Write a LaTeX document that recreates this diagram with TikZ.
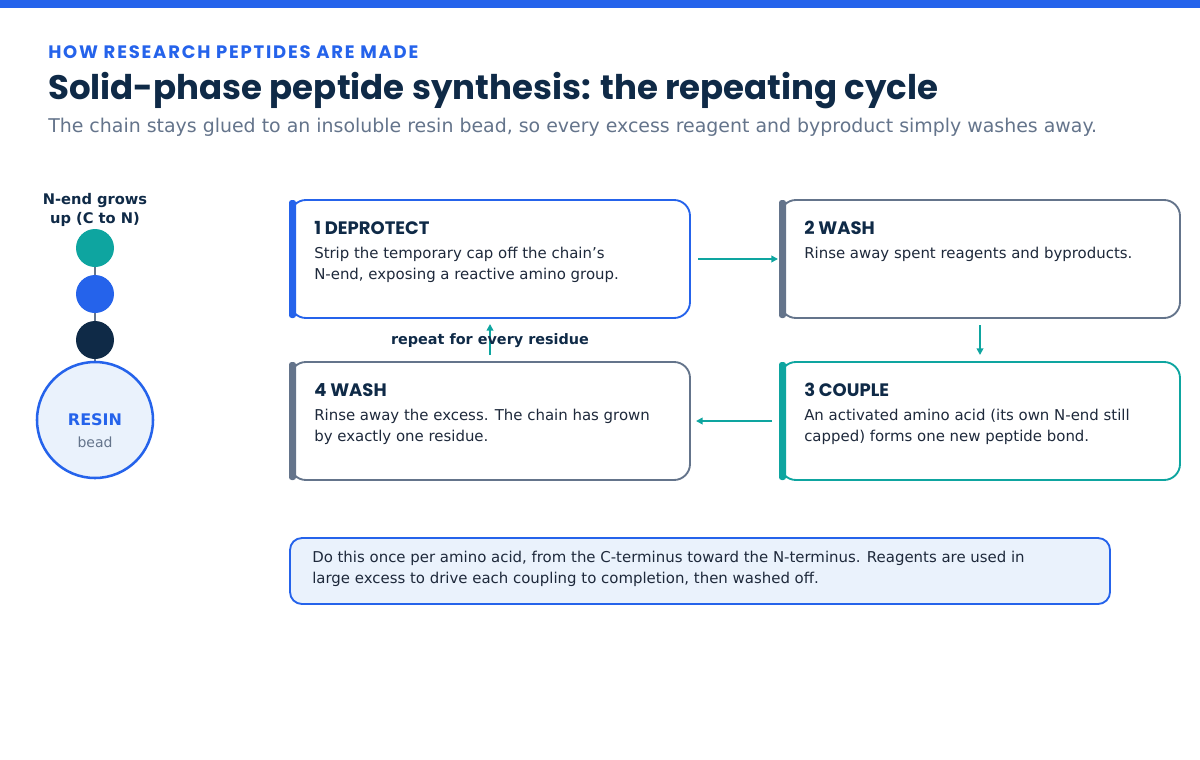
\documentclass[tikz,border=0pt]{standalone}
\usepackage{fontspec}
\setmainfont{DejaVu Sans}
\newfontfamily\pop{Poppins}
\newfontfamily\popsp{Poppins}[LetterSpace=10]
\usetikzlibrary{arrows.meta}
\definecolor{cblue}{HTML}{2563EB}
\definecolor{cteal}{HTML}{0EA5A0}
\definecolor{cnavy}{HTML}{0F2A47}
\definecolor{cgray}{HTML}{64748B}
\definecolor{ctext}{HTML}{1E293B}
\definecolor{cpale}{HTML}{EAF2FC}
\begin{document}
\begin{tikzpicture}[x=0.75pt,y=-0.75pt,
  box/.style={draw=#1,line width=1.4pt,rounded corners=12pt,fill=white},
  bar/.style={fill=#1,rounded corners=2pt},
  ttl/.style={anchor=base west,font=\pop\bfseries\fontsize{13.5}{16}\selectfont,text=cnavy,inner sep=0},
  body/.style={anchor=north west,align=left,font=\fontsize{11.2}{15.7}\selectfont,text=ctext,inner sep=0},
  arr/.style={draw=cteal,line width=1.6pt,-{Triangle[length=5pt,width=5pt]}}]
\useasboundingbox (0,0) rectangle (1200,760);
\fill[white] (0,0) rectangle (1200,760);
\fill[cblue] (0,0) rectangle (1200,8);
\node[anchor=base west,inner sep=0,text=cblue,font=\popsp\bfseries\fontsize{13.5}{16}\selectfont] (hdr) at (48,58) {HOW RESEARCH PEPTIDES ARE MADE};
\node[anchor=base west,inner sep=0,text=cnavy,font=\pop\bfseries\fontsize{25.5}{30}\selectfont] (title) at (48,99) {Solid-phase peptide synthesis: the repeating cycle};
\node[anchor=base west,inner sep=0,text=cgray,font=\fontsize{14.2}{17}\selectfont] (sub) at (48,132) {The chain stays glued to an insoluble resin bead, so every excess reagent and byproduct simply washes away.};
% left column
\node[align=center,font=\bfseries\fontsize{11}{14.5}\selectfont,text=cnavy,inner sep=0] (lbl) at (95,210) {N-end grows\\up (C to N)};
\draw[cgray,line width=1.6pt] (95,248) -- (95,366);
\node[circle,fill=cteal,minimum size=38*0.75pt,inner sep=0] (c1) at (95,248) {};
\node[circle,fill=cblue,minimum size=38*0.75pt,inner sep=0] (c2) at (95,294) {};
\node[circle,fill=cnavy,minimum size=38*0.75pt,inner sep=0] (c3) at (95,340) {};
\node[circle,draw=cblue,line width=1.9pt,fill=cpale,minimum size=116*0.75pt,inner sep=0] (resin) at (95,420) {};
\node[font=\bfseries\fontsize{12}{14}\selectfont,text=cblue] (rt) at (95,420) {RESIN};
\node[font=\fontsize{10.5}{12}\selectfont,text=cgray] (bt) at (95,442) {bead};
% boxes
\draw[box=cblue] (290,200) rectangle (690,318);
\fill[bar=cblue] (289,200) rectangle (296,318);
\node[ttl] (t1) at (314,234) {1 DEPROTECT};
\node[body] (b1) at (314,247) {Strip the temporary cap off the chain's\\N-end, exposing a reactive amino group.};
\draw[box=cgray] (780,200) rectangle (1180,318);
\fill[bar=cgray] (779,200) rectangle (786,318);
\node[ttl] (t2) at (804,234) {2 WASH};
\node[body] (b2) at (804,247) {Rinse away spent reagents and byproducts.};
\draw[box=cteal] (780,362) rectangle (1180,480);
\fill[bar=cteal] (779,362) rectangle (786,480);
\node[ttl] (t3) at (804,396) {3 COUPLE};
\node[body] (b3) at (804,409) {An activated amino acid (its own N-end still\\capped) forms one new peptide bond.};
\draw[box=cgray] (290,362) rectangle (690,480);
\fill[bar=cgray] (289,362) rectangle (296,480);
\node[ttl] (t4) at (314,396) {4 WASH};
\node[body] (b4) at (314,409) {Rinse away the excess. The chain has grown\\by exactly one residue.};
% arrows
\coordinate (a1) at (698,259); \coordinate (a1e) at (778,259);
\draw[arr] (a1) -- (a1e);
\coordinate (a2) at (980,325); \coordinate (a2e) at (980,355);
\draw[arr] (a2) -- (a2e);
\coordinate (a3) at (772,421); \coordinate (a3e) at (696,421);
\draw[arr] (a3) -- (a3e);
\coordinate (a4) at (490,355); \coordinate (a4e) at (490,324);
\draw[arr] (a4) -- (a4e);
\node[font=\bfseries\fontsize{10.8}{13}\selectfont,text=cnavy,inner sep=0] (rep) at (490,341) {repeat for every residue};
% note
\draw[draw=cblue,line width=1.4pt,fill=cpale,rounded corners=9pt] (290,538) rectangle (1110,604);
\node[body] (note) at (312,551) {Do this once per amino acid, from the C-terminus toward the N-terminus. Reagents are used in\\large excess to drive each coupling to completion, then washed off.};
\end{tikzpicture}
\end{document}
